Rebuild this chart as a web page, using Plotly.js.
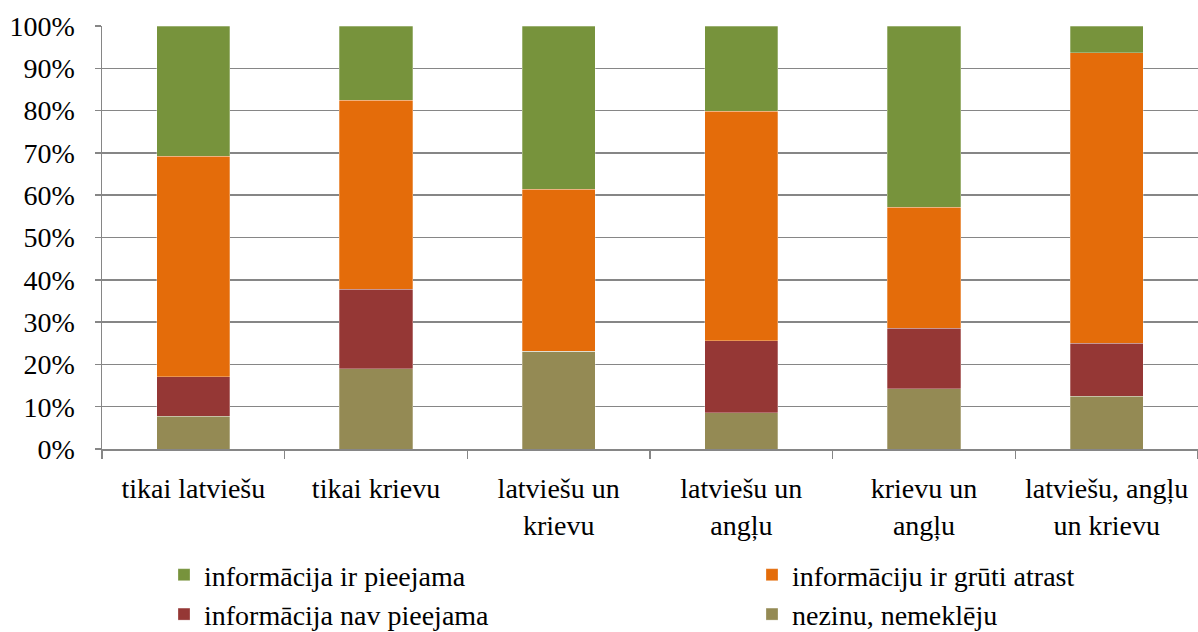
<!DOCTYPE html>
<html>
<head>
<meta charset="utf-8">
<script src="https://cdn.plot.ly/plotly-3.0.1.min.js"></script>
<style>html,body{margin:0;padding:0;background:#fff;}</style>
</head>
<body>
<div id="chart" style="width:1198px;height:632px"></div>
<script>
const categories = ["tikai latviešu", "tikai krievu", "latviešu un<br>krievu", "latviešu un<br>angļu", "krievu un<br>angļu", "latviešu, angļu<br>un krievu"];
const nezinu = [7.7, 19.0, 23.1, 8.6, 14.2, 12.5];
const navPieejama = [9.4, 18.8, 0, 17.0, 14.3, 12.5];
const gruti = [52.1, 44.7, 38.3, 54.3, 28.6, 68.7];
const irPieejama = [30.8, 17.5, 38.6, 20.1, 42.9, 6.3];
const yTicks = [0, 10, 20, 30, 40, 50, 60, 70, 80, 90, 100];

function mkFont() { return {family: "Liberation Serif", size: 28, color: "#000000"}; }
function tr(name, y, color, leg) {
  return {type: "bar", name: name, x: categories, y: y, width: 0.4, legend: leg,
    marker: {color: color, line: {color: "rgba(255,255,255,0.35)", width: 0.8}},
    hoverinfo: "none"};
}
const data = [
  tr("nezinu, nemeklēju", nezinu, "#948A54", "legend2"),
  tr("informācija nav pieejama", navPieejama, "#953735", "legend"),
  tr("informāciju ir grūti atrast", gruti, "#E46C0A", "legend2"),
  tr("informācija ir pieejama", irPieejama, "#77933C", "legend")
];
function mkLegend(x) {
  return {orientation: "v", traceorder: "reversed", xref: "container", yref: "container",
    xanchor: "left", yanchor: "top", font: mkFont(), bgcolor: "rgba(0,0,0,0)", borderwidth: 0,
    x: x, y: 1 - 550 / 632};
}
const layout = {
  width: 1198, height: 632,
  margin: {l: 102, r: 0, t: 26, b: 183, autoexpand: false},
  barmode: "stack",
  font: mkFont(),
  paper_bgcolor: "#fff", plot_bgcolor: "#fff",
  xaxis: {showgrid: false, showline: true, linecolor: "#868686", linewidth: 1.5,
    ticks: "outside", tickson: "boundaries", ticklen: 8, tickcolor: "#868686", tickwidth: 1.5,
    tickfont: mkFont(), tickangle: 0, ticklabelstandoff: 14, automargin: false, fixedrange: true},
  yaxis: {range: [0, 100], tickvals: yTicks, ticktext: yTicks.map(v => v + "%"),
    showgrid: true, gridcolor: "#868686", gridwidth: 1.5, zeroline: false,
    showline: true, linecolor: "#868686", linewidth: 1.5,
    ticks: "outside", ticklen: 6, tickcolor: "#868686", tickwidth: 1.5,
    tickfont: mkFont(), ticklabelstandoff: 14, automargin: false, fixedrange: true},
  showlegend: true,
  legend: mkLegend(164 / 1198),
  legend2: mkLegend(752 / 1198)
};
Plotly.newPlot("chart", data, layout, {staticPlot: true, displayModeBar: false});
</script>
</body>
</html>
